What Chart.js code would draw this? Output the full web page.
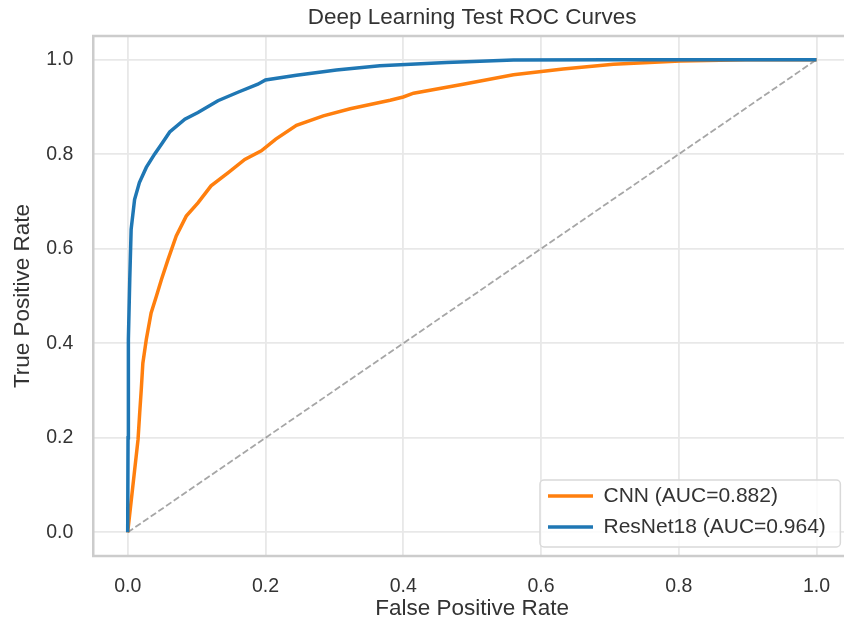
<!DOCTYPE html>
<html>
<head>
<meta charset="utf-8">
<title>Deep Learning Test ROC Curves</title>
<script src="https://cdn.jsdelivr.net/npm/chart.js@4"></script>
<style>
  html, body { margin: 0; padding: 0; background: #fff; overflow: hidden; }
  #roc { display: block; }
</style>
</head>
<body>
<canvas id="roc" width="852" height="625"></canvas>
<script>
// ROC points
const cnnFpr = [0, 0.015, 0.0174, 0.0197, 0.022, 0.027, 0.034, 0.0415, 0.049, 0.0585, 0.0705, 0.085, 0.102, 0.121, 0.146, 0.17, 0.194, 0.215, 0.245, 0.284, 0.323, 0.381, 0.4, 0.415, 0.487, 0.56, 0.632, 0.705, 0.802, 0.898, 1.0];
const cnnTpr = [0, 0.196, 0.252, 0.302, 0.358, 0.408, 0.464, 0.499, 0.535, 0.577, 0.627, 0.669, 0.697, 0.733, 0.761, 0.789, 0.807, 0.832, 0.861, 0.881, 0.896, 0.914, 0.921, 0.929, 0.948, 0.968, 0.98, 0.99, 0.997, 1.0, 1.0];
const resnetFpr = [0, 0.0005, 0.001, 0.003, 0.005, 0.01, 0.017, 0.027, 0.039, 0.049, 0.061, 0.083, 0.102, 0.131, 0.16, 0.189, 0.2, 0.245, 0.303, 0.366, 0.463, 0.56, 0.7, 1.0];
const resnetTpr = [0, 0.2, 0.408, 0.535, 0.641, 0.704, 0.74, 0.772, 0.8, 0.821, 0.847, 0.874, 0.888, 0.913, 0.931, 0.948, 0.957, 0.967, 0.978, 0.987, 0.994, 0.999, 1.0, 1.0];
const chanceFpr = [0, 1];
const chanceTpr = [0, 1];
const seriesLabels = ['CNN (AUC=0.882)', 'ResNet18 (AUC=0.964)'];
const xTicks = [0, 0.2, 0.4, 0.6, 0.8, 1.0];
const yTicks = [0, 0.2, 0.4, 0.6, 0.8, 1.0];

const toPoints = (xs, ys) => xs.map((x, i) => ({ x: x, y: ys[i] }));
const family = "'Liberation Sans', Arial, sans-serif";
const textColor = '#333333';

// axes spines + legend placed inside the plot with a frame
const frame = {
  id: 'frame',
  afterLayout(chart) {
    const lg = chart.legend;
    const a = chart.chartArea;
    lg.left = a.right - 313;
    lg.top = a.bottom - 80.5;
    lg.right = lg.left + lg.width;
    lg.bottom = lg.top + 72;
    if (!lg._framed) {
      const draw = lg.draw.bind(lg);
      lg.draw = function () {
        const ctx = chart.ctx;
        ctx.save();
        ctx.beginPath();
        ctx.roundRect(lg.left + 2, lg.top + 4.5, lg.width + 2.5, 67, 4);
        ctx.fillStyle = 'rgba(255,255,255,0.8)';
        ctx.fill();
        ctx.lineWidth = 1.5;
        ctx.strokeStyle = '#d9d9d9';
        ctx.stroke();
        ctx.restore();
        draw();
      };
      lg._framed = true;
    }
  },
  afterDatasetsDraw(chart) {
    const { ctx, chartArea: a } = chart;
    ctx.save();
    ctx.lineWidth = 2.5;
    ctx.strokeStyle = '#cccccc';
    ctx.strokeRect(a.left, a.top, a.right - a.left + 10, a.bottom - a.top);
    ctx.restore();
  }
};

new Chart(document.getElementById('roc'), {
  type: 'scatter',
  data: {
    datasets: [{
      label: seriesLabels[0],
      data: toPoints(cnnFpr, cnnTpr),
      borderColor: '#ff7f0e',
      backgroundColor: '#ff7f0e',
      borderWidth: 3.5,
      showLine: true,
      pointRadius: 0,
      order: 1
    }, {
      label: seriesLabels[1],
      data: toPoints(resnetFpr, resnetTpr),
      borderColor: '#1f77b4',
      backgroundColor: '#1f77b4',
      borderWidth: 3.5,
      showLine: true,
      pointRadius: 0,
      order: 0
    }, {
      label: 'chance',
      data: toPoints(chanceFpr, chanceTpr),
      borderColor: 'rgba(128,128,128,0.7)',
      borderWidth: 1.8,
      borderDash: [6.5, 2.8],
      showLine: true,
      pointRadius: 0,
      order: 2
    }]
  },
  options: {
    responsive: false,
    animation: false,
    layout: { padding: { right: 1 } },
    plugins: {
      title: {
        display: true,
        text: 'Deep Learning Test ROC Curves',
        fullSize: false,
        color: textColor,
        font: { family: family, size: 22.5, weight: 'normal' },
        padding: { top: 4, bottom: 5 }
      },
      legend: {
        position: 'chartArea',
        align: 'start',
        labels: {
          boxWidth: 45,
          boxHeight: 3.5,
          padding: 10,
          color: textColor,
          font: { family: family, size: 21 },
          filter: item => item.datasetIndex < 2,
          sort: (a, b) => a.datasetIndex - b.datasetIndex,
          generateLabels: chart => Chart.defaults.plugins.legend.labels.generateLabels(chart)
            .map(item => Object.assign({}, item, { lineWidth: 0 }))
        }
      },
      tooltip: { enabled: false }
    },
    scales: {
      x: {
        type: 'linear',
        min: -0.05,
        max: 1.05,
        afterBuildTicks: s => { s.ticks = xTicks.map(v => ({ value: v })); },
        afterFit: s => { s.height = 69; },
        ticks: {
          padding: 19,
          color: textColor,
          font: { family: family, size: 19.5 },
          callback: v => v.toFixed(1)
        },
        grid: { color: '#e8e8e8', lineWidth: 1.8, drawTicks: false },
        border: { display: false },
        title: {
          display: true,
          text: 'False Positive Rate',
          color: textColor,
          font: { family: family, size: 22.5 },
          padding: { top: 0, bottom: 3 }
        }
      },
      y: {
        type: 'linear',
        min: -0.05,
        max: 1.05,
        afterBuildTicks: s => { s.ticks = yTicks.map(v => ({ value: v })); },
        afterFit: s => { s.width = 93.25; },
        ticks: {
          padding: 20,
          color: textColor,
          font: { family: family, size: 19.5 },
          callback: v => v.toFixed(1)
        },
        grid: { color: '#e8e8e8', lineWidth: 1.8, drawTicks: false },
        border: { display: false },
        title: {
          display: true,
          text: 'True Positive Rate',
          color: textColor,
          font: { family: family, size: 22.5 },
          padding: { top: 9, bottom: 0 }
        }
      }
    }
  },
  plugins: [frame]
});
</script>
</body>
</html>
